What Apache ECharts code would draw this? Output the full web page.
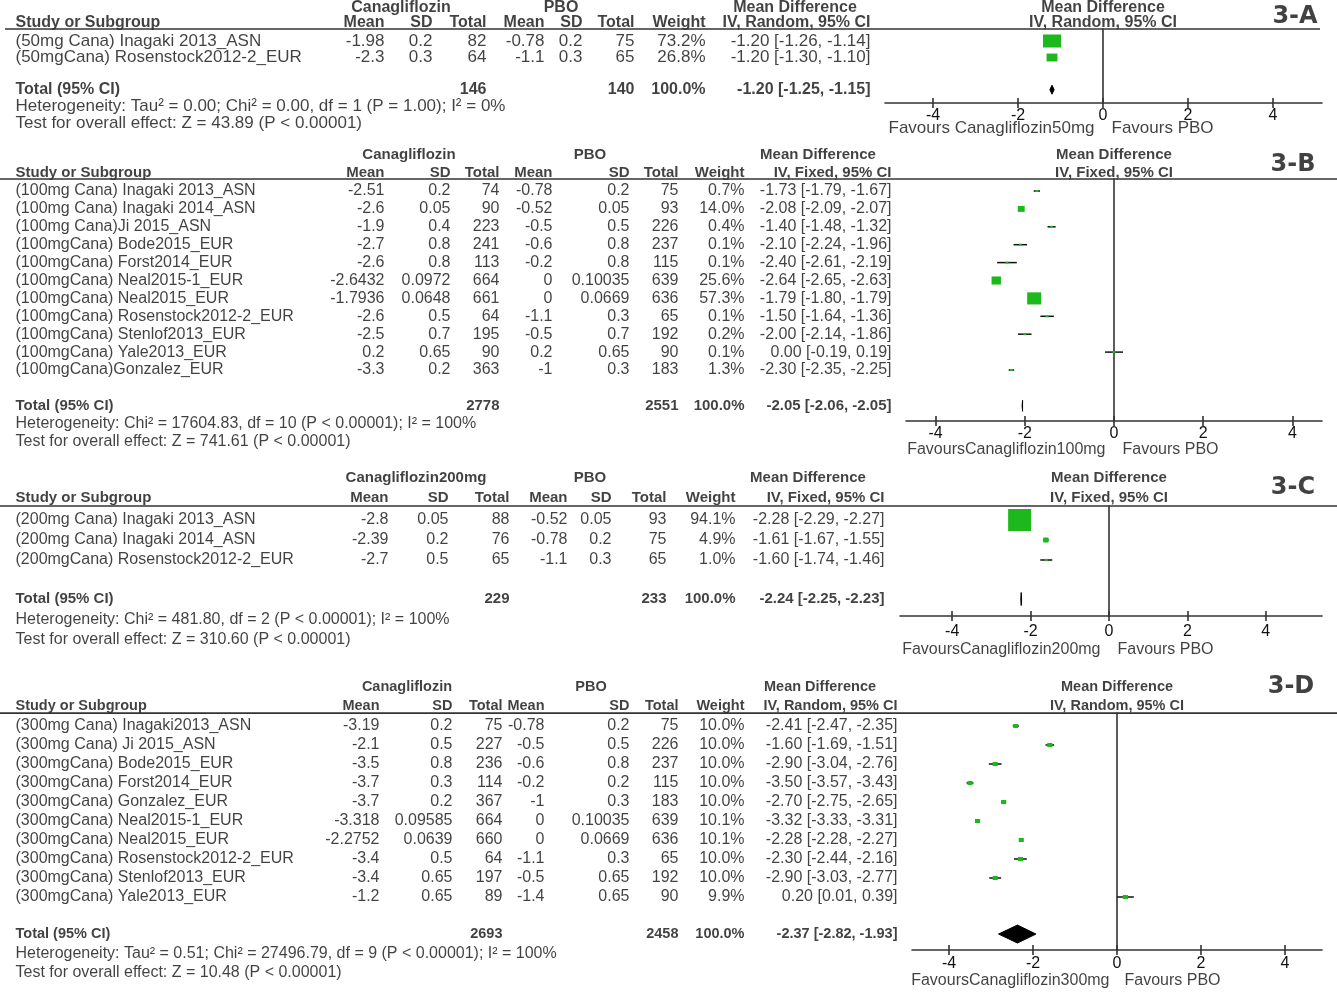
<!DOCTYPE html>
<html><head><meta charset="utf-8">
<script src="https://cdn.jsdelivr.net/npm/echarts@6/dist/echarts.min.js"></script>
<style>html,body{margin:0;padding:0;background:#fff}#c{width:1337px;height:992px}</style>
</head><body><div id="c"></div>
<script>
// ================= DATA =================
// common labels
const colHeaders = ["Mean", "SD", "Total", "Mean", "SD", "Total", "Weight"];
const pboLabel = "PBO";
const mdLabel = "Mean Difference";
const studyHeader = "Study or Subgroup";
const totalLabel = "Total (95% CI)";
const favoursPBO = "Favours PBO";
const tickValues = [-4, -2, 0, 2, 4];

// ---- 3-A : Canagliflozin 50 mg ----
const A_studies = ["(50mg Cana) Inagaki 2013_ASN", "(50mgCana) Rosenstock2012-2_EUR"];
const A_canaMean = [-1.98, -2.3];
const A_canaSD = [0.2, 0.3];
const A_canaN = [82, 64];
const A_pboMean = [-0.78, -1.1];
const A_pboSD = [0.2, 0.3];
const A_pboN = [75, 65];
const A_weight = [73.2, 26.8];
const A_md = [-1.20, -1.20];
const A_lo = [-1.26, -1.30];
const A_hi = [-1.14, -1.10];
const A_totalN = [146, 140];
const A_totalMD = [-1.20, -1.25, -1.15];
const A_group = "Canagliflozin";
const A_method = "IV, Random, 95% CI";
const A_het = "Heterogeneity: Tau\u00B2 = 0.00; Chi\u00B2 = 0.00, df = 1 (P = 1.00); I\u00B2 = 0%";
const A_test = "Test for overall effect: Z = 43.89 (P < 0.00001)";
const A_favours = "Favours Canagliflozin50mg";
const A_tag = "3-A";

// ---- 3-B : Canagliflozin 100 mg ----
const B_studies = ["(100mg Cana) Inagaki 2013_ASN", "(100mg Cana) Inagaki 2014_ASN", "(100mg Cana)Ji 2015_ASN",
  "(100mgCana) Bode2015_EUR", "(100mgCana) Forst2014_EUR", "(100mgCana) Neal2015-1_EUR", "(100mgCana) Neal2015_EUR",
  "(100mgCana) Rosenstock2012-2_EUR", "(100mgCana) Stenlof2013_EUR", "(100mgCana) Yale2013_EUR", "(100mgCana)Gonzalez_EUR"];
const B_canaMean = [-2.51, -2.6, -1.9, -2.7, -2.6, -2.6432, -1.7936, -2.6, -2.5, 0.2, -3.3];
const B_canaSD = [0.2, 0.05, 0.4, 0.8, 0.8, 0.0972, 0.0648, 0.5, 0.7, 0.65, 0.2];
const B_canaN = [74, 90, 223, 241, 113, 664, 661, 64, 195, 90, 363];
const B_pboMean = [-0.78, -0.52, -0.5, -0.6, -0.2, 0, 0, -1.1, -0.5, 0.2, -1];
const B_pboSD = [0.2, 0.05, 0.5, 0.8, 0.8, 0.10035, 0.0669, 0.3, 0.7, 0.65, 0.3];
const B_pboN = [75, 93, 226, 237, 115, 639, 636, 65, 192, 90, 183];
const B_weight = [0.7, 14.0, 0.4, 0.1, 0.1, 25.6, 57.3, 0.1, 0.2, 0.1, 1.3];
const B_md = [-1.73, -2.08, -1.40, -2.10, -2.40, -2.64, -1.79, -1.50, -2.00, 0.00, -2.30];
const B_lo = [-1.79, -2.09, -1.48, -2.24, -2.61, -2.65, -1.80, -1.64, -2.14, -0.19, -2.35];
const B_hi = [-1.67, -2.07, -1.32, -1.96, -2.19, -2.63, -1.79, -1.36, -1.86, 0.19, -2.25];
const B_totalN = [2778, 2551];
const B_totalMD = [-2.05, -2.06, -2.05];
const B_group = "Canagliflozin";
const B_method = "IV, Fixed, 95% CI";
const B_het = "Heterogeneity: Chi\u00B2 = 17604.83, df = 10 (P < 0.00001); I\u00B2 = 100%";
const B_test = "Test for overall effect: Z = 741.61 (P < 0.00001)";
const B_favours = "FavoursCanagliflozin100mg";
const B_tag = "3-B";

// ---- 3-C : Canagliflozin 200 mg ----
const C_studies = ["(200mg Cana) Inagaki 2013_ASN", "(200mg Cana) Inagaki 2014_ASN", "(200mgCana) Rosenstock2012-2_EUR"];
const C_canaMean = [-2.8, -2.39, -2.7];
const C_canaSD = [0.05, 0.2, 0.5];
const C_canaN = [88, 76, 65];
const C_pboMean = [-0.52, -0.78, -1.1];
const C_pboSD = [0.05, 0.2, 0.3];
const C_pboN = [93, 75, 65];
const C_weight = [94.1, 4.9, 1.0];
const C_md = [-2.28, -1.61, -1.60];
const C_lo = [-2.29, -1.67, -1.74];
const C_hi = [-2.27, -1.55, -1.46];
const C_totalN = [229, 233];
const C_totalMD = [-2.24, -2.25, -2.23];
const C_group = "Canagliflozin200mg";
const C_method = "IV, Fixed, 95% CI";
const C_het = "Heterogeneity: Chi\u00B2 = 481.80, df = 2 (P < 0.00001); I\u00B2 = 100%";
const C_test = "Test for overall effect: Z = 310.60 (P < 0.00001)";
const C_favours = "FavoursCanagliflozin200mg";
const C_tag = "3-C";

// ---- 3-D : Canagliflozin 300 mg ----
const D_studies = ["(300mg Cana) Inagaki2013_ASN", "(300mg Cana) Ji 2015_ASN", "(300mgCana) Bode2015_EUR",
  "(300mgCana) Forst2014_EUR", "(300mgCana) Gonzalez_EUR", "(300mgCana) Neal2015-1_EUR", "(300mgCana) Neal2015_EUR",
  "(300mgCana) Rosenstock2012-2_EUR", "(300mgCana) Stenlof2013_EUR", "(300mgCana) Yale2013_EUR"];
const D_canaMean = [-3.19, -2.1, -3.5, -3.7, -3.7, -3.318, -2.2752, -3.4, -3.4, -1.2];
const D_canaSD = [0.2, 0.5, 0.8, 0.3, 0.2, 0.09585, 0.0639, 0.5, 0.65, 0.65];
const D_canaN = [75, 227, 236, 114, 367, 664, 660, 64, 197, 89];
const D_pboMean = [-0.78, -0.5, -0.6, -0.2, -1, 0, 0, -1.1, -0.5, -1.4];
const D_pboSD = [0.2, 0.5, 0.8, 0.2, 0.3, 0.10035, 0.0669, 0.3, 0.65, 0.65];
const D_pboN = [75, 226, 237, 115, 183, 639, 636, 65, 192, 90];
const D_weight = [10.0, 10.0, 10.0, 10.0, 10.0, 10.1, 10.1, 10.0, 10.0, 9.9];
const D_md = [-2.41, -1.60, -2.90, -3.50, -2.70, -3.32, -2.28, -2.30, -2.90, 0.20];
const D_lo = [-2.47, -1.69, -3.04, -3.57, -2.75, -3.33, -2.28, -2.44, -3.03, 0.01];
const D_hi = [-2.35, -1.51, -2.76, -3.43, -2.65, -3.31, -2.27, -2.16, -2.77, 0.39];
const D_totalN = [2693, 2458];
const D_totalMD = [-2.37, -2.82, -1.93];
const D_group = "Canagliflozin";
const D_method = "IV, Random, 95% CI";
const D_het = "Heterogeneity: Tau\u00B2 = 0.51; Chi\u00B2 = 27496.79, df = 9 (P < 0.00001); I\u00B2 = 100%";
const D_test = "Test for overall effect: Z = 10.48 (P < 0.00001)";
const D_favours = "FavoursCanagliflozin300mg";
const D_tag = "3-D";

// ================= LAYOUT (positions / styles, not data) =================
const FONT = "'Liberation Sans', Arial, Helvetica, sans-serif";
const GREEN = '#1cb81c';
const INK = '#111';
const LAY = {
  A: {row0: 41, rowH: 16.5, h1: -2.0, h2: -1.1, line: -0.73, total: 2.95, het: 3.95, test: 4.98, axisRow: 3.76, fav: 5.27, tag: -1.45,
      cols: [385, 433, 487, 545, 583, 635, 706, 871], groups: [401, 561, 795], fx: [885, 1322], zero: 1103, unit: 42.5,
      kW: 2.1, kH: 1.52, dh: 4.5, favGap: 8, tagX: 1295, lineX: [5, 1320], fs: 17, fsB: 16, lblM: 5, yMin: -2.45, yMax: 6.3},
  B: {row0: 191, rowH: 17.9, h1: -2, h2: -1, line: -0.67, total: 12, het: 13, test: 14, axisRow: 12.85, fav: 14.47, tag: -1.45,
      cols: [385, 451, 500, 553, 630, 679, 745, 892], groups: [409, 590, 818], fx: [906, 1322], zero: 1114, unit: 44.6,
      kW: 1.85, kH: 1.6, dh: 5.5, favGap: 8, tagX: 1293, lineX: [0, 1337], fs: 16, fsB: 15, lblM: 5, yMin: -3, yMax: 15.3},
  C: {row0: 520, rowH: 20, h1: -2.1, h2: -1.1, line: -0.7, total: 3.95, het: 5, test: 6, axisRow: 4.8, fav: 6.5, tag: -1.6,
      cols: [389, 449, 510, 568, 612, 667, 736, 885], groups: [416, 590, 808], fx: [900, 1322], zero: 1109, unit: 39.2,
      kW: 2.37, kH: 2.27, dh: 6.5, favGap: 8, tagX: 1293, lineX: [0, 1337], fs: 16, fsB: 15, lblM: 8, yMin: -3, yMax: 7.3},
  D: {row0: 726, rowH: 19, h1: -2.05, h2: -1.05, line: -0.68, total: 10.95, het: 12, test: 13, axisRow: 11.79, fav: 13.42, tag: -2.05,
      cols: [380, 453, 503, 545, 630, 679, 745, 898], groups: [407, 591, 820], fx: [912, 1322], zero: 1117, unit: 42,
      kW: 1.6, kH: 1.3, dh: 9, favGap: 7, tagX: 1291, lineX: [0, 1337], fs: 16, fsB: 14.5, lblM: 6, yMin: -3, yMax: 13.85}
};

const panels = [
  {key: 'A', studies: A_studies, cM: A_canaMean, cS: A_canaSD, cN: A_canaN, pM: A_pboMean, pS: A_pboSD, pN: A_pboN, w: A_weight,
   md: A_md, lo: A_lo, hi: A_hi, tN: A_totalN, tMD: A_totalMD, group: A_group, method: A_method, het: A_het, test: A_test, fav: A_favours, tag: A_tag},
  {key: 'B', studies: B_studies, cM: B_canaMean, cS: B_canaSD, cN: B_canaN, pM: B_pboMean, pS: B_pboSD, pN: B_pboN, w: B_weight,
   md: B_md, lo: B_lo, hi: B_hi, tN: B_totalN, tMD: B_totalMD, group: B_group, method: B_method, het: B_het, test: B_test, fav: B_favours, tag: B_tag},
  {key: 'C', studies: C_studies, cM: C_canaMean, cS: C_canaSD, cN: C_canaN, pM: C_pboMean, pS: C_pboSD, pN: C_pboN, w: C_weight,
   md: C_md, lo: C_lo, hi: C_hi, tN: C_totalN, tMD: C_totalMD, group: C_group, method: C_method, het: C_het, test: C_test, fav: C_favours, tag: C_tag},
  {key: 'D', studies: D_studies, cM: D_canaMean, cS: D_canaSD, cN: D_canaN, pM: D_pboMean, pS: D_pboSD, pN: D_pboN, w: D_weight,
   md: D_md, lo: D_lo, hi: D_hi, tN: D_totalN, tMD: D_totalMD, group: D_group, method: D_method, het: D_het, test: D_test, fav: D_favours, tag: D_tag}
];

const f2 = v => v.toFixed(2);
const ciText = (m, l, h) => f2(m) + ' [' + f2(l) + ', ' + f2(h) + ']';

const grids = [], xAxes = [], yAxes = [], series = [], graphics = [];

panels.forEach(p => {
  const L = LAY[p.key];
  // ---------- table grid (x in page pixels, y in row units) ----------
  const yMin = L.yMin, yMax = L.yMax;
  const tg = grids.length;
  grids.push({left: 0, width: 1337, top: L.row0 + yMin * L.rowH, height: (yMax - yMin) * L.rowH});
  const tx = xAxes.length; xAxes.push({gridIndex: tg, type: 'value', min: 0, max: 1337, show: false});
  const ty = yAxes.length; yAxes.push({gridIndex: tg, type: 'value', min: yMin, max: yMax, inverse: true, show: false});

  const items = [];
  const add = (x, y, text, align, extra) => items.push({
    name: String(text), value: [x, y],
    label: Object.assign({position: align === 'left' ? 'right' : (align === 'right' ? 'left' : 'inside'), distance: 0}, extra || {})
  });
  const B = {fontWeight: 'bold', fontSize: L.fsB};
  // header row 1
  add(L.groups[0], L.h1, p.group, 'center', B);
  add(L.groups[1], L.h1, pboLabel, 'center', B);
  add(L.groups[2], L.h1, mdLabel, 'center', B);
  add(L.zero, L.h1, mdLabel, 'center', B);
  // header row 2
  add(15, L.h2, studyHeader, 'left', B);
  colHeaders.forEach((h, j) => add(L.cols[j], L.h2, h, 'right', B));
  add(L.cols[7], L.h2, p.method, 'right', B);
  add(L.zero, L.h2, p.method, 'center', B);
  // panel tag
  add(L.tagX, L.tag, p.tag, 'center', {fontWeight: 'bold', fontSize: 24, fontFamily: "'DejaVu Sans', 'Liberation Sans', sans-serif"});
  // study rows
  p.studies.forEach((s, i) => {
    add(15, i, s, 'left');
    const vals = [p.cM[i], p.cS[i], p.cN[i], p.pM[i], p.pS[i], p.pN[i], p.w[i].toFixed(1) + '%', ciText(p.md[i], p.lo[i], p.hi[i])];
    vals.forEach((v, j) => add(L.cols[j], i, v, 'right'));
  });
  // total row
  add(15, L.total, totalLabel, 'left', B);
  add(L.cols[2], L.total, p.tN[0], 'right', B);
  add(L.cols[5], L.total, p.tN[1], 'right', B);
  add(L.cols[6], L.total, '100.0%', 'right', B);
  add(L.cols[7], L.total, ciText(p.tMD[0], p.tMD[1], p.tMD[2]), 'right', B);
  add(15, L.het, p.het, 'left');
  add(15, L.test, p.test, 'left');
  // favours captions
  add(L.zero - L.favGap, L.fav, p.fav, 'right');
  add(L.zero + L.favGap, L.fav, favoursPBO, 'left');

  series.push({
    type: 'scatter', xAxisIndex: tx, yAxisIndex: ty, data: items, symbolSize: 1, silent: true, clip: false, z: 5,
    itemStyle: {color: 'rgba(0,0,0,0)'},
    label: {show: true, formatter: q => q.name, color: INK, fontFamily: FONT, fontSize: L.fs}
  });

  // header rule
  const ruleY = L.row0 + L.line * L.rowH;
  graphics.push({type: 'line', shape: {x1: L.lineX[0], y1: ruleY, x2: L.lineX[1], y2: ruleY}, style: {stroke: '#333', lineWidth: 1.6}, z: 10});

  // ---------- forest grid ----------
  const fg = grids.length;
  const top = ruleY, bottom = L.row0 + L.axisRow * L.rowH;
  const xmin = (L.fx[0] - L.zero) / L.unit, xmax = (L.fx[1] - L.zero) / L.unit;
  grids.push({left: L.fx[0], width: L.fx[1] - L.fx[0], top: top, height: bottom - top});
  const axStyle = {color: '#333', width: 1.6};
  const fx = xAxes.length;
  xAxes.push({gridIndex: fg, type: 'value', min: xmin, max: xmax, position: 'bottom',
    axisLine: {show: true, onZero: false, lineStyle: axStyle},
    axisTick: {show: true, inside: false, length: 5, customValues: tickValues, lineStyle: axStyle},
    axisLabel: {show: true, customValues: tickValues, color: INK, fontFamily: FONT, fontSize: 16, margin: L.lblM},
    splitLine: {show: false}});
  xAxes.push({gridIndex: fg, type: 'value', min: xmin, max: xmax, position: 'bottom',
    axisLine: {show: false, onZero: false},
    axisTick: {show: true, inside: true, length: 5, customValues: tickValues, lineStyle: axStyle},
    axisLabel: {show: false}, splitLine: {show: false}});
  const fy = yAxes.length;
  yAxes.push({gridIndex: fg, type: 'value', min: L.line, max: L.axisRow, inverse: true,
    axisLine: {show: true, onZero: true, onZeroAxisIndex: fx, lineStyle: axStyle},
    axisTick: {show: false}, axisLabel: {show: false}, splitLine: {show: false}});

  // CI whiskers
  series.push({
    type: 'custom', xAxisIndex: fx, yAxisIndex: fy, clip: false, silent: true, z: 3,
    data: p.md.map((m, i) => [p.lo[i], p.hi[i], i]),
    encode: {x: [0, 1], y: 2},
    renderItem: (params, api) => {
      const a = api.coord([api.value(0), api.value(2)]);
      const b = api.coord([api.value(1), api.value(2)]);
      return {type: 'line', shape: {x1: a[0] - 0.5, y1: a[1], x2: b[0] + 0.5, y2: b[1]}, style: {stroke: INK, lineWidth: 1.5}};
    }
  });
  // weighted squares
  series.push({
    type: 'custom', xAxisIndex: fx, yAxisIndex: fy, clip: false, silent: true, z: 4,
    data: p.md.map((m, i) => [m, i, p.w[i]]),
    encode: {x: 0, y: 1},
    renderItem: (params, api) => {
      const c = api.coord([api.value(0), api.value(1)]);
      const s = Math.sqrt(api.value(2));
      const w = Math.max(3, L.kW * s), h = Math.max(2, L.kH * s);
      return {type: 'rect', shape: {x: c[0] - w / 2, y: c[1] - h / 2, width: w, height: h}, style: {fill: GREEN}};
    }
  });
  // pooled diamond
  series.push({
    type: 'custom', xAxisIndex: fx, yAxisIndex: fy, clip: false, silent: true, z: 4,
    data: [[p.tMD[0], p.tMD[1], p.tMD[2], L.total]],
    encode: {x: [1, 2], y: 3},
    renderItem: (params, api) => {
      const m = api.coord([api.value(0), api.value(3)]);
      const l = api.coord([api.value(1), api.value(3)]);
      const r = api.coord([api.value(2), api.value(3)]);
      return {type: 'polygon', shape: {points: [[l[0], l[1]], [m[0], m[1] - L.dh], [r[0], r[1]], [m[0], m[1] + L.dh]]},
        style: {fill: '#000', stroke: '#000', lineWidth: 1}};
    }
  });
});

const chart = echarts.init(document.getElementById('c'), null, {renderer: 'canvas'});
chart.setOption({
  animation: false, backgroundColor: '#fff', tooltip: {show: false},
  grid: grids, xAxis: xAxes, yAxis: yAxes, series: series, graphic: graphics
});
</script></body></html>
